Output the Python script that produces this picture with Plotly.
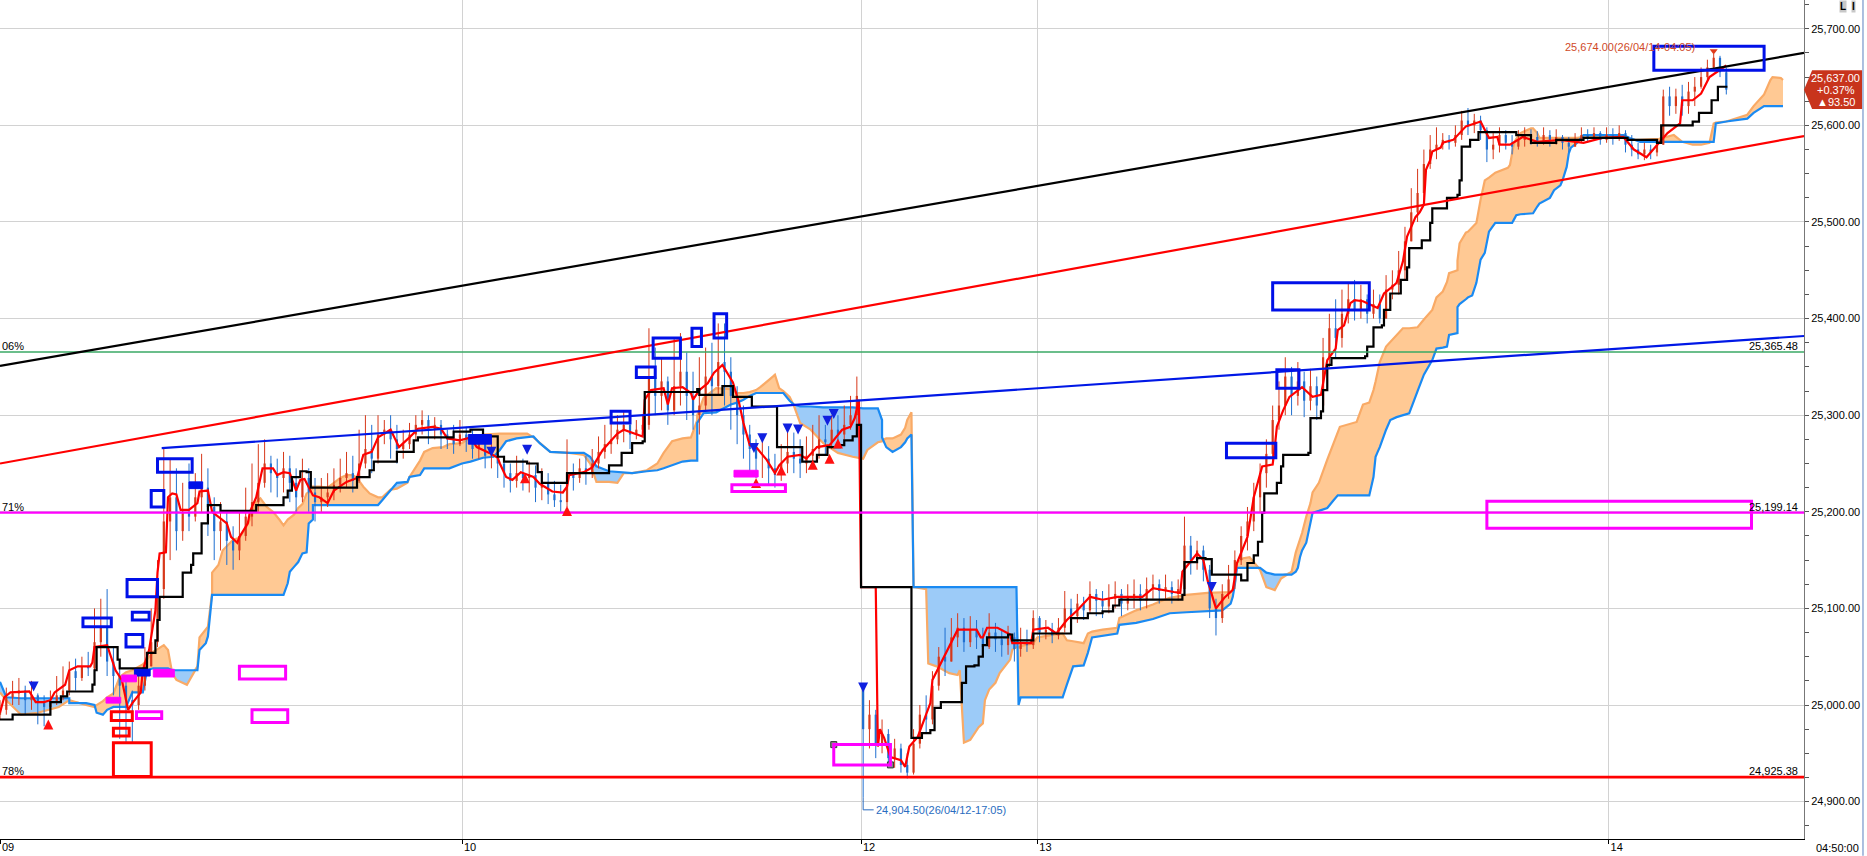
import numpy as np
import plotly.graph_objects as go

# 5 minute futures chart, 09 -> 14 Apr. One candle is kept for every 3 bars.
BAR_STEP = 3

# ---- session 1 (09-10), candles k = 0..136 ---------------------------
sess1_open = 24990
sess1_close = [
    24995, 25008, 25012, 25015, 25005, 25010, 25002, 24998, 25004, 25010, 25015,
    25035, 25028, 25040, 25038, 25065, 25080, 25045, 25030, 25020, 25005,
    25000, 25020, 25040, 25065, 25120, 25190, 25215, 25180, 25200, 25195,
    25215, 25225, 25205, 25180, 25190, 25170, 25160, 25175, 25195, 25210,
    25230, 25250, 25240, 25235, 25245, 25230, 25215, 25235, 25220, 25210,
    25215, 25220, 25228, 25235, 25240, 25232, 25250, 25265, 25255, 25280,
    25285, 25275, 25265, 25270, 25280, 25290, 25295, 25285, 25290, 25280,
    25275, 25270, 25280, 25275, 25265, 25270, 25258, 25260, 25250, 25240,
    25232, 25240, 25235, 25238, 25225, 25230, 25218, 25212, 25210, 25240,
    25235, 25245, 25240, 25250, 25262, 25270, 25275, 25285, 25290, 25280,
    25285, 25290, 25340, 25320, 25335, 25305, 25330, 25345, 25320, 25300,
    25310, 25340, 25330, 25355, 25345, 25320, 25300, 25280, 25265, 25255,
    25255, 25245, 25238, 25250, 25262, 25255, 25250, 25258, 25265, 25275,
    25272, 25285, 25280, 25290, 25300, 25320,
]
sess1_high = [
    25005, 25018, 25025, 25028, 25020, 25025, 25012, 25010, 25015, 25030, 25040,
    25045, 25048, 25050, 25055, 25100, 25110, 25120, 25060, 25040, 25025,
    25015, 25035, 25060, 25100, 25150, 25265, 25255, 25245, 25230, 25250,
    25240, 25260, 25245, 25215, 25210, 25200, 25185, 25200, 25225, 25250,
    25270, 25275, 25258, 25255, 25262, 25258, 25245, 25255, 25245, 25235,
    25235, 25240, 25245, 25255, 25262, 25258, 25285, 25300, 25290, 25300,
    25295, 25300, 25290, 25285, 25292, 25300, 25305, 25300, 25298, 25295,
    25285, 25290, 25295, 25288, 25285, 25280, 25275, 25272, 25265, 25258,
    25250, 25258, 25255, 25252, 25248, 25245, 25240, 25232, 25228, 25275,
    25250, 25255, 25258, 25265, 25278, 25290, 25295, 25300, 25305, 25300,
    25295, 25300, 25390, 25370, 25360, 25340, 25380, 25385, 25365, 25345,
    25360, 25370, 25375, 25395, 25395, 25360, 25330, 25310, 25290, 25275,
    25275, 25268, 25260, 25270, 25285, 25282, 25275, 25278, 25290, 25300,
    25290, 25300, 25300, 25310, 25320, 25340,
]
sess1_low = [
    24985, 24990, 25000, 25000, 24990, 24995, 24980, 24978, 24990, 25000, 25005,
    25010, 25015, 25025, 25030, 25035, 25050, 25030, 25010, 24965, 24960,
    24960, 24995, 25015, 25040, 25060, 25110, 25150, 25160, 25170, 25180,
    25190, 25200, 25175, 25150, 25160, 25145, 25140, 25150, 25170, 25185,
    25200, 25225, 25220, 25215, 25220, 25210, 25200, 25210, 25200, 25190,
    25200, 25205, 25212, 25220, 25225, 25220, 25230, 25245, 25240, 25250,
    25270, 25255, 25250, 25255, 25265, 25275, 25280, 25270, 25275, 25265,
    25265, 25260, 25268, 25262, 25255, 25255, 25245, 25245, 25235, 25225,
    25220, 25225, 25222, 25220, 25210, 25212, 25208, 25205, 25200, 25205,
    25222, 25230, 25228, 25235, 25245, 25255, 25260, 25270, 25272, 25265,
    25275, 25280, 25285, 25300, 25305, 25290, 25300, 25310, 25295, 25285,
    25280, 25305, 25300, 25320, 25310, 25285, 25270, 25255, 25240, 25235,
    25235, 25228, 25225, 25232, 25240, 25240, 25235, 25240, 25248, 25255,
    25258, 25265, 25268, 25275, 25285, 25290,
]

# ---- session 2 (12-14), candles k = 137..274 --------------------------
sess2_open = 25018
sess2_close = [
    24975, 24990, 24960, 24970, 24945, 24955, 24938, 24930, 24960, 24990, 24985, 25020, 25050, 25045,
    25070, 25080, 25065, 25078, 25070, 25060, 25075, 25068, 25062, 25070,
    25058, 25065, 25062, 25090, 25075, 25078, 25072, 25080, 25100, 25092,
    25105, 25098, 25115, 25108, 25102, 25110, 25115, 25105, 25112,
    25115, 25108, 25120, 25125, 25118, 25122, 25115, 25120, 25165, 25150, 25160,
    25140, 25100, 25090, 25115, 25130, 25150, 25175, 25190, 25215, 25240,
    25260, 25295, 25310, 25340, 25320, 25335, 25315, 25330, 25310, 25360,
    25390, 25380, 25405, 25420, 25410, 25420, 25405, 25415, 25400, 25430,
    25435, 25450, 25480, 25510, 25530, 25560, 25575, 25580, 25585, 25582,
    25590, 25605, 25600, 25605, 25595, 25575, 25580, 25590, 25582, 25578,
    25585, 25590, 25588, 25582, 25590, 25585, 25588, 25582, 25578, 25585,
    25590, 25588, 25592, 25585, 25590, 25588, 25592, 25580, 25575, 25570,
    25575, 25572, 25580, 25630, 25620, 25630, 25620, 25635, 25640, 25650,
    25660, 25670, 25655, 25637,
]
sess2_high = [
    25022, 25005, 24995, 24985, 24975, 24965, 24960, 24950, 24975, 25000, 25010, 25035, 25060, 25080,
    25090, 25095, 25090, 25092, 25088, 25080, 25095, 25085, 25078, 25082,
    25075, 25080, 25078, 25098, 25092, 25088, 25085, 25090, 25118, 25110,
    25115, 25112, 25128, 25120, 25118, 25125, 25128, 25120, 25125,
    25130, 25125, 25132, 25135, 25130, 25135, 25128, 25130, 25195, 25175, 25170,
    25165, 25145, 25110, 25125, 25145, 25160, 25185, 25205, 25230, 25250,
    25275, 25310, 25335, 25360, 25350, 25355, 25345, 25348, 25340, 25380,
    25405, 25420, 25430, 25437, 25440, 25435, 25425, 25430, 25425, 25445,
    25450, 25470, 25495, 25535, 25555, 25575, 25590, 25598, 25592, 25590,
    25600, 25615, 25618, 25612, 25610, 25598, 25592, 25598, 25595, 25590,
    25595, 25598, 25596, 25594, 25598, 25595, 25596, 25590, 25588, 25592,
    25598, 25596, 25598, 25594, 25598, 25597, 25600, 25595, 25590, 25582,
    25582, 25580, 25585, 25637, 25640, 25638, 25642, 25645, 25650, 25660,
    25668, 25674, 25672, 25660,
]
sess2_low = [
    24904.5, 24955, 24945, 24950, 24935, 24935, 24930, 24924, 24928, 24955, 24970, 24980, 25015, 25030,
    25045, 25060, 25055, 25060, 25058, 25050, 25058, 25055, 25050, 25052,
    25045, 25050, 25055, 25058, 25065, 25068, 25064, 25068, 25075, 25080,
    25085, 25088, 25095, 25092, 25090, 25095, 25100, 25092, 25098,
    25100, 25098, 25100, 25110, 25105, 25110, 25105, 25108, 25115, 25135, 25140,
    25128, 25090, 25072, 25085, 25110, 25120, 25145, 25160, 25180, 25200,
    25225, 25250, 25285, 25300, 25300, 25310, 25298, 25305, 25295, 25315,
    25350, 25360, 25370, 25395, 25398, 25400, 25395, 25400, 25395, 25400,
    25420, 25425, 25440, 25480, 25500, 25520, 25555, 25565, 25575, 25575,
    25578, 25585, 25590, 25592, 25585, 25562, 25565, 25572, 25575, 25570,
    25575, 25578, 25580, 25578, 25580, 25578, 25580, 25575, 25572, 25578,
    25582, 25582, 25584, 25580, 25582, 25580, 25584, 25572, 25568, 25565,
    25564, 25565, 25568, 25582, 25610, 25612, 25610, 25612, 25620, 25638,
    25645, 25658, 25650, 25632,
]

# ---- ichimoku lines, (bar, price) ------------------------------------
tenkan = [
    (0, 24992), (2, 25008), (5, 25013), (14, 25014), (17, 25003), (21, 25003), (24, 25005),
    (26, 25013), (31, 25021), (33, 25036), (37, 25040), (43, 25040), (44, 25044), (45, 25060),
    (51, 25062), (55, 25036), (58, 25026), (61, 24995), (63, 25002), (67, 25013), (68, 25036),
    (71, 25057), (74, 25098), (75, 25137), (76, 25157), (79, 25158), (80, 25215), (82, 25219),
    (84, 25218), (86, 25202), (90, 25202), (94, 25209), (95, 25221), (99, 25222), (101, 25200),
    (104, 25195), (108, 25188), (110, 25174), (113, 25168), (114, 25174), (118, 25188),
    (119, 25200), (122, 25215), (125, 25245), (130, 25245), (132, 25238), (135, 25241),
    (138, 25240), (141, 25222), (143, 25233), (145, 25234), (149, 25217), (152, 25215),
    (156, 25209), (159, 25222), (165, 25231), (170, 25235), (173, 25259), (177, 25262),
    (180, 25277), (186, 25285), (188, 25276), (190, 25267), (195, 25277), (199, 25286),
    (206, 25288), (210, 25286), (213, 25276), (219, 25274), (224, 25277), (227, 25267),
    (233, 25261), (237, 25256), (238, 25250), (241, 25236), (244, 25233), (248, 25241),
    (254, 25236), (257, 25229), (263, 25221), (268, 25220), (270, 25226), (271, 25238),
    (278, 25241), (282, 25246), (287, 25264), (294, 25281), (297, 25285), (306, 25278),
    (307, 25316), (310, 25326), (316, 25328), (318, 25311), (320, 25328), (325, 25329),
    (329, 25323), (330, 25316), (333, 25326), (337, 25333), (340, 25344), (344, 25352),
    (349, 25334), (352, 25312), (354, 25292), (357, 25269), (360, 25267), (365, 25254),
    (369, 25240), (371, 25248), (375, 25257), (381, 25259), (384, 25255), (389, 25267),
    (395, 25269), (401, 25285), (405, 25288), (407, 25297), (409, 25316), (410, 25122),
    (417, 25122), (418, 24957), (419, 24975), (421, 24966), (424, 24946), (429, 24943),
    (431, 24936), (433, 24957), (437, 24967), (440, 24984), (443, 25002), (444, 25026),
    (448, 25043), (452, 25060), (456, 25078), (465, 25078), (467, 25070), (468, 25070),
    (470, 25080), (475, 25080), (481, 25073), (482, 25064), (491, 25064), (492, 25078),
    (499, 25080), (503, 25074), (508, 25088), (513, 25098), (519, 25112), (525, 25109),
    (532, 25112), (544, 25112), (549, 25121), (559, 25117), (562, 25116), (563, 25138),
    (570, 25157), (573, 25150), (575, 25129), (579, 25100), (583, 25111), (587, 25119),
    (589, 25147), (594, 25174), (597, 25215), (601, 25247), (606, 25249), (607, 25267),
    (608, 25288), (611, 25305), (614, 25319), (620, 25329), (625, 25319), (629, 25321),
    (632, 25357), (636, 25369), (637, 25388), (640, 25393), (643, 25416), (645, 25419),
    (649, 25418), (656, 25411), (659, 25426), (663, 25433), (665, 25437), (668, 25459),
    (670, 25485), (674, 25505), (676, 25510), (678, 25518), (679, 25554), (681, 25564),
    (682, 25573), (686, 25577), (687, 25582), (692, 25585), (695, 25592), (698, 25599),
    (705, 25604), (707, 25595), (709, 25587), (713, 25588), (714, 25580), (719, 25580),
    (725, 25588), (732, 25583), (743, 25585), (754, 25582), (763, 25587), (773, 25588),
    (778, 25575), (784, 25567), (790, 25582), (794, 25592), (800, 25602), (801, 25626),
    (806, 25626), (810, 25633), (814, 25650), (819, 25657), (822, 25662),
]
kijun = [
    (0, 24985), (6, 24990), (24, 25003), (29, 25009), (32, 25014), (44, 25021), (45, 25036),
    (46, 25060), (56, 25047), (57, 25038), (70, 25054), (74, 25067), (75, 25088), (76, 25112),
    (87, 25137), (91, 25145), (92, 25157), (96, 25188), (99, 25207), (105, 25201), (122, 25207),
    (135, 25215), (137, 25222), (139, 25236), (143, 25242), (146, 25241), (148, 25225),
    (170, 25236), (176, 25243), (178, 25252), (189, 25262), (197, 25274), (199, 25277),
    (216, 25283), (224, 25285), (230, 25278), (237, 25257), (240, 25252), (251, 25250),
    (256, 25241), (258, 25230), (270, 25240), (290, 25248), (296, 25261), (301, 25271),
    (306, 25273), (307, 25324), (332, 25327), (333, 25321), (344, 25330), (349, 25319),
    (358, 25309), (370, 25267), (382, 25252), (389, 25259), (394, 25267), (400, 25269),
    (402, 25274), (406, 25278), (408, 25290), (410, 25122), (434, 24966), (439, 24971),
    (443, 24974), (445, 24997), (448, 25003), (458, 25023), (460, 25040), (464, 25041),
    (466, 25050), (468, 25062), (470, 25070), (480, 25073), (482, 25067), (492, 25074),
    (510, 25090), (518, 25095), (525, 25097), (530, 25103), (533, 25109), (563, 25114),
    (564, 25148), (570, 25152), (574, 25151), (577, 25135), (591, 25129), (594, 25147),
    (597, 25155), (599, 25169), (601, 25199), (602, 25219), (608, 25230), (610, 25247),
    (611, 25259), (623, 25261), (624, 25297), (629, 25304), (630, 25326), (632, 25352),
    (634, 25359), (650, 25361), (651, 25371), (654, 25391), (658, 25393), (659, 25409),
    (662, 25426), (667, 25440), (670, 25453), (671, 25473), (677, 25481), (681, 25499),
    (682, 25514), (689, 25525), (694, 25528), (695, 25543), (696, 25578), (700, 25585),
    (704, 25593), (722, 25590), (729, 25582), (741, 25585), (754, 25587), (775, 25585),
    (789, 25582), (791, 25600), (806, 25604), (809, 25613), (815, 25626), (818, 25640),
    (822, 25641),
]
# leading spans on a shared bar grid: (bar, span A, span B)
cloud = [
    (0, 25013, 25024), (3, 25005, 25008), (10, 24990, 25007), (18, 24992, 25007),
    (28, 24998, 25007), (33, 25005, 25007), (33, 25005, 25002), (41, 25000, 25002),
    (45, 24998, 25000), (46, 25000, 24992), (49, 25004, 24990), (51, 25008, 24995),
    (54, 25012, 24998), (57, 25029, 24998), (60, 25034, 24998), (63, 25036, 25013),
    (68, 25042, 25013), (70, 25047, 25036), (73, 25055, 25038), (78, 25062, 25038),
    (80, 25057, 25038), (82, 25033, 25036), (84, 25026, 25036), (89, 25021, 25036),
    (92, 25033, 25036), (94, 25040, 25036), (95, 25070, 25057), (98, 25078, 25064),
    (99, 25081, 25071), (101, 25116, 25114), (101, 25137, 25114), (104, 25145, 25114),
    (106, 25160, 25114), (111, 25171, 25114), (114, 25173, 25114), (117, 25183, 25114),
    (119, 25192, 25114), (122, 25210, 25114), (124, 25214, 25114), (127, 25205, 25114),
    (130, 25200, 25114), (133, 25192, 25114), (135, 25186, 25114), (137, 25192, 25126),
    (138, 25194, 25138), (140, 25197, 25143), (142, 25204, 25148), (144, 25208, 25157),
    (146, 25219, 25158), (147, 25220, 25188), (149, 25225, 25192), (149, 25226, 25207),
    (152, 25226, 25207), (156, 25225, 25207), (159, 25230, 25207), (162, 25235, 25207),
    (165, 25238, 25207), (168, 25238, 25207), (170, 25235, 25207), (173, 25226, 25207),
    (176, 25219, 25207), (180, 25215, 25207), (182, 25215, 25212), (186, 25223, 25223),
    (189, 25224, 25230), (194, 25230, 25231), (195, 25236, 25236), (197, 25243, 25237),
    (200, 25253, 25238), (202, 25262, 25245), (206, 25266, 25245), (211, 25267, 25245),
    (214, 25270, 25245), (220, 25271, 25250), (224, 25277, 25252), (230, 25280, 25256),
    (235, 25281, 25257), (238, 25281, 25264), (241, 25281, 25273), (246, 25281, 25276),
    (251, 25281, 25277), (254, 25277, 25278), (257, 25271, 25271), (262, 25262, 25262),
    (271, 25261, 25261), (278, 25259, 25261), (281, 25250, 25257), (284, 25231, 25247),
    (290, 25231, 25242), (294, 25230, 25241), (297, 25240, 25241), (301, 25240, 25240),
    (308, 25243, 25242), (313, 25250, 25243), (316, 25261, 25245), (320, 25273, 25248),
    (325, 25276, 25252), (329, 25277, 25253), (332, 25295, 25253), (332, 25300, 25292),
    (335, 25318, 25302), (341, 25328, 25303), (348, 25327, 25311), (351, 25323, 25313),
    (354, 25323, 25316), (357, 25324, 25320), (360, 25326, 25323), (362, 25329, 25323),
    (368, 25340, 25323), (369, 25342, 25323), (371, 25328, 25323), (373, 25325, 25323),
    (376, 25319, 25315), (378, 25310, 25311), (381, 25292, 25309), (386, 25285, 25309),
    (392, 25271, 25308), (399, 25261, 25308), (406, 25257, 25308), (411, 25255, 25307),
    (413, 25264, 25307), (418, 25272, 25307), (420, 25273, 25295), (420, 25274, 25277),
    (422, 25276, 25267), (425, 25276, 25262), (429, 25280, 25267), (431, 25287, 25272),
    (432, 25295, 25276), (434, 25303, 25280), (435, 25122, 25122), (441, 25120, 25122),
    (442, 25043, 25122), (446, 25040, 25122), (452, 25033, 25122), (456, 25031, 25122),
    (457, 25036, 25122), (459, 24961, 25122), (462, 24964, 25122), (466, 24977, 25122),
    (468, 24981, 25122), (469, 25005, 25122), (471, 25016, 25122), (474, 25023, 25122),
    (476, 25033, 25122), (481, 25047, 25122), (482, 25057, 25122), (484, 25060, 25122),
    (485, 25060, 25000), (486, 25061, 25008), (492, 25064, 25008), (494, 25070, 25008),
    (506, 25074, 25008), (508, 25067, 25021), (511, 25066, 25040), (516, 25064, 25041),
    (518, 25074, 25054), (520, 25076, 25070), (525, 25078, 25072), (532, 25080, 25074),
    (533, 25090, 25083), (541, 25098, 25085), (549, 25104, 25089), (552, 25107, 25091),
    (557, 25111, 25095), (565, 25114, 25096), (575, 25116, 25097), (582, 25117, 25098),
    (586, 25117, 25105), (587, 25120, 25112), (588, 25126, 25125), (589, 25147, 25142),
    (592, 25152, 25142), (595, 25153, 25142), (600, 25140, 25142), (603, 25122, 25137),
    (607, 25119, 25135), (610, 25131, 25135), (615, 25138, 25135), (617, 25158, 25138),
    (618, 25165, 25142), (619, 25172, 25153), (620, 25178, 25160), (622, 25195, 25168),
    (624, 25209, 25188), (625, 25220, 25199), (628, 25230, 25201), (632, 25254, 25204),
    (635, 25271, 25212), (637, 25282, 25217), (638, 25288, 25217), (646, 25293, 25217),
    (649, 25311, 25217), (652, 25313, 25217), (654, 25326, 25236), (655, 25335, 25257),
    (656, 25345, 25262), (657, 25355, 25267), (660, 25371, 25285), (662, 25376, 25295),
    (665, 25383, 25298), (668, 25390, 25300), (671, 25390, 25302), (675, 25391, 25325),
    (678, 25399, 25342), (682, 25409, 25357), (684, 25422, 25369), (687, 25428, 25370),
    (689, 25438, 25371), (690, 25447, 25383), (694, 25450, 25385), (694, 25460, 25412),
    (695, 25478, 25415), (698, 25489, 25420), (699, 25490, 25422), (701, 25494, 25424),
    (703, 25499, 25437), (705, 25523, 25461), (707, 25543, 25468), (709, 25546, 25490),
    (712, 25551, 25499), (718, 25556, 25499), (719, 25559, 25499), (720, 25571, 25499),
    (721, 25582, 25503), (722, 25586, 25507), (724, 25592, 25508), (729, 25597, 25509),
    (730, 25597, 25509), (732, 25592, 25516), (733, 25587, 25519), (738, 25587, 25525),
    (740, 25587, 25533), (743, 25587, 25538), (744, 25587, 25543), (746, 25587, 25557),
    (747, 25587, 25571), (748, 25587, 25577), (751, 25587, 25582), (754, 25588, 25590),
    (767, 25589, 25590), (773, 25587, 25590), (776, 25585, 25587), (781, 25585, 25583),
    (790, 25586, 25583), (797, 25590, 25583), (801, 25583, 25583), (806, 25580, 25583),
    (810, 25580, 25583), (814, 25582, 25583), (816, 25602, 25583), (817, 25603, 25602),
    (822, 25604, 25604), (832, 25611, 25607), (835, 25620, 25613), (840, 25632, 25620),
    (843, 25647, 25620), (844, 25650, 25620), (848, 25649, 25620), (849, 25647, 25620),
]

# ---- drawn trend lines and levels --------------------------------------
trend_black = [(0, 25351), (859, 25675)]
trend_red = [(0, 25250), (859, 25589)]
trend_blue = [(77, 25266), (859, 25382)]
level_green = 25365.48
level_magenta = 25199.14
level_red = 24925.38
level_tags = ['06%', '71%', '78%']

# signal arrows (bar, price)
sell_arrows = [(16, 25014), (234, 25257), (251, 25259), (359, 25261), (363, 25271),
               (375, 25281), (380, 25280), (394, 25289), (397, 25296), (411, 25013), (577, 25117)]
buy_arrows = [(23, 24985), (250, 25240), (270, 25206), (360, 25235), (372, 25248),
              (387, 25254), (395, 25260), (399, 25276)]

# pattern boxes: (bar from, bar to, low, high)
blue_boxes = [(39.5, 53, 25081, 25090), (60.5, 75, 25112, 25130), (63, 71, 25088, 25096),
              (60, 68, 25060, 25073), (75, 91.5, 25241, 25255), (72, 78, 25205, 25222),
              (291, 300, 25292, 25304), (303, 312, 25339, 25350), (311, 324, 25359, 25380),
              (329.5, 334, 25371, 25390), (340, 346, 25380, 25405), (584, 607.5, 25256, 25271),
              (608, 618.5, 25328, 25347), (606, 652, 25409, 25437), (787.5, 840, 25657, 25682)]
blue_blocks = [(64, 71.5, 25030, 25037), (90, 96.5, 25224, 25231), (223, 234, 25270, 25280)]
magenta_boxes = [(114, 136, 25027, 25040), (120, 137, 24982, 24995), (65, 77, 24986, 24993),
                 (348.5, 374, 25221, 25228), (397, 424, 24938, 24959), (708, 834, 25183, 25211)]
magenta_blocks = [(58, 65, 25024, 25031), (50.5, 57.5, 25002, 25008), (73, 83, 25029, 25037),
                  (349.5, 361, 25236, 25243)]
red_boxes = [(53, 63, 24984, 24993), (54, 61.5, 24968, 24976), (54, 72, 24926, 24961)]

day_ticks = [0, 220, 410, 494, 766]
day_labels = ['09', '10', '12', '13', '14']
last_time = '04:50:00'

last_price = 25637.00
change_pct = 0.37
change_abs = 93.50
high_mark = (816, 25674.00, '26/04/14-04:05')
low_mark = (411, 24904.50, '26/04/12-17:05')

# ------------------------------------------------------------------------
FONT = 'Liberation Sans, Arial, sans-serif'
UP, DOWN = '#d7381a', '#1f6fd0'


def session(first_open, close, high, low, first_index):
	assert len(close) == len(high) == len(low)
	close = np.asarray(close, float)
	open_ = np.concatenate([[first_open], close[:-1]])
	high = np.maximum(np.asarray(high, float), np.maximum(open_, close))
	low = np.minimum(np.asarray(low, float), np.minimum(open_, close))
	x = (first_index + np.arange(len(close))) * BAR_STEP
	return x, open_, high, low, close


def segments(x, y0, y1):
	gap = np.full(len(x), np.nan)
	return np.column_stack([x, x, gap]).ravel(), np.column_stack([y0, y1, gap]).ravel()


s1 = session(sess1_open, sess1_close, sess1_high, sess1_low, 0)
s2 = session(sess2_open, sess2_close, sess2_high, sess2_low, len(sess1_close))
cx, co, ch, cl, cc = [np.concatenate([a, b]) for a, b in zip(s1, s2)]

fig = go.Figure()

# cloud fill: orange where span A is on top, light blue where span B is on top
cb = np.array([c[0] for c in cloud], float)
ca = np.array([c[1] for c in cloud], float)
cs = np.array([c[2] for c in cloud], float)
top = np.maximum(ca, cs)
nl = dict(width=0)
fig.add_trace(go.Scatter(x=cb, y=cs, mode='lines', line=nl))
fig.add_trace(go.Scatter(x=cb, y=top, mode='lines', line=nl, fill='tonexty', fillcolor='#ffc994'))
fig.add_trace(go.Scatter(x=cb, y=ca, mode='lines', line=nl))
fig.add_trace(go.Scatter(x=cb, y=top, mode='lines', line=nl, fill='tonexty', fillcolor='#9ccbf8'))
fig.add_trace(go.Scatter(x=cb, y=ca, mode='lines', line=dict(color='#f9aa66', width=2.2)))
fig.add_trace(go.Scatter(x=cb, y=cs, mode='lines', line=dict(color='#1a8af2', width=2.2)))

# candles
for mask, col in ((cc >= co, UP), (cc < co, DOWN)):
	wx, wy = segments(cx[mask], cl[mask], ch[mask])
	fig.add_trace(go.Scatter(x=wx, y=wy, mode='lines', line=dict(color=col, width=1)))
	bx, by = segments(cx[mask], co[mask], cc[mask])
	fig.add_trace(go.Scatter(x=bx, y=by, mode='lines', line=dict(color=col, width=2.2)))

# conversion / base lines
fig.add_trace(go.Scatter(x=[p[0] for p in tenkan], y=[p[1] for p in tenkan], mode='lines',
                         line=dict(color='#ff0000', width=2.2)))
fig.add_trace(go.Scatter(x=[p[0] for p in kijun], y=[p[1] for p in kijun], mode='lines',
                         line=dict(color='#000000', width=2.2, shape='hv')))

# levels and trend lines
x_full = [0, 859]
for lvl, col, w in ((level_green, '#3aa864', 1.6), (level_magenta, '#ff00ff', 2.2), (level_red, '#ff0000', 2.6)):
	fig.add_trace(go.Scatter(x=x_full, y=[lvl, lvl], mode='lines', line=dict(color=col, width=w)))
for tl, col in ((trend_black, '#000000'), (trend_red, '#ff0000'), (trend_blue, '#0018e6')):
	fig.add_trace(go.Scatter(x=[p[0] for p in tl], y=[p[1] for p in tl], mode='lines',
	                         line=dict(color=col, width=2.2)))

# signal arrows
fig.add_trace(go.Scatter(x=[p[0] for p in sell_arrows], y=[p[1] for p in sell_arrows], mode='markers',
                         marker=dict(symbol='arrow-down', size=10, color='#1020e0')))
fig.add_trace(go.Scatter(x=[p[0] for p in buy_arrows], y=[p[1] for p in buy_arrows], mode='markers',
                         marker=dict(symbol='arrow-up', size=10, color='#ff1010')))
fig.add_trace(go.Scatter(x=[high_mark[0]], y=[high_mark[1] + 3], mode='markers',
                         marker=dict(symbol='triangle-down', size=7, color='#e03a1a')))

# low marker leader
lx, ly = low_mark[0], low_mark[1]
fig.add_trace(go.Scatter(x=[lx, lx, lx + 5], y=[ly, ly - 13, ly - 13], mode='lines',
                         line=dict(color='#2a6cc0', width=1)))

# handles on the day-12 box
fig.add_trace(go.Scatter(x=[397, 424], y=[24959, 24938], mode='markers',
                         marker=dict(symbol='square', size=6, color='#8a8a8a', line=dict(color='#333', width=1))))

fig.update_traces(showlegend=False, hoverinfo='skip')

# pattern boxes
for boxes, col, filled in ((blue_boxes, '#0010e8', False), (blue_blocks, '#0010e8', True),
                           (magenta_boxes, '#ff00ff', False), (magenta_blocks, '#ff00ff', True),
                           (red_boxes, '#ff0000', False)):
	for x0, x1, y0, y1 in boxes:
		fig.add_shape(type='rect', xref='x', yref='y', x0=x0, x1=x1, y0=y0, y1=y1,
		              line=dict(color=col, width=1 if filled else 3),
		              fillcolor=col if filled else 'rgba(0,0,0,0)')

# price tag on the axis
tag_h = 20
fig.add_shape(type='path', xref='paper', yref='y', fillcolor='#c8341c', line=dict(width=0),
              path=(f'M 1.0 {last_price} L 1.0045 {last_price + tag_h} L 1.0322 {last_price + tag_h} '
                    f'L 1.0322 {last_price - tag_h} L 1.0045 {last_price - tag_h} Z'))
for i, t in enumerate([f'{last_price:,.2f}', f'+{change_pct:.2f}%', f'▲{change_abs:.2f}']):
	fig.add_annotation(xref='paper', yref='y', x=1.0175, y=last_price + 12.5 - 12.5 * i, text=t,
	                   xanchor='center', showarrow=False, font=dict(color='white', size=11, family=FONT))

# right-end level labels
for lvl in (level_green, level_magenta, level_red):
	fig.add_annotation(x=857, y=lvl, text=f'{lvl:,.2f}', xanchor='right', yanchor='bottom',
	                   showarrow=False, font=dict(size=11, family=FONT, color='black'), yshift=-2)
for lvl, tag in zip((level_green, level_magenta, level_red), level_tags):
	fig.add_annotation(xref='paper', x=0, y=lvl, text=tag, xanchor='left', yanchor='bottom', xshift=0,
	                   showarrow=False, font=dict(size=11, family=FONT, color='black'), yshift=-2)

fig.add_annotation(x=808, y=high_mark[1] + 7, text=f'{high_mark[1]:,.2f}({high_mark[2]})', xanchor='right',
                   showarrow=False, font=dict(size=11, family=FONT, color='#d04a28'))
fig.add_annotation(x=lx + 5, y=ly - 13, text=f'{low_mark[1]:,.2f}({low_mark[2]})', xanchor='left',
                   showarrow=False, font=dict(size=11, family=FONT, color='#2a6cc0'))

fig.add_annotation(xref='paper', yref='paper', x=1.0185, y=0, yanchor='top', xanchor='center', yshift=-1,
                   text=last_time, showarrow=False, font=dict(size=11, family=FONT, color='black'))
for xp, t in ((1.0215, 'L'), (1.0275, 'I')):
	fig.add_annotation(xref='paper', yref='paper', x=xp, y=1, yanchor='top', xanchor='center',
	                   text=f'<b>{t}</b>', showarrow=False, bgcolor='#c8c8c8',
	                   font=dict(size=10, family=FONT, color='black'), borderpad=0)
fig.add_shape(type='line', xref='paper', yref='paper', x0=1.0327, x1=1.0327, y0=-0.02, y1=1,
              line=dict(color='#5a7fc0', width=1))

fig.update_layout(
	template='none',
	width=1867, height=856,
	margin=dict(l=0, r=63, t=0, b=17),
	paper_bgcolor='white', plot_bgcolor='white',
	font=dict(family=FONT, size=11, color='black'),
	hovermode=False, showlegend=False,
	xaxis=dict(range=[0, 859], tickvals=day_ticks, ticktext=day_labels, showgrid=True,
	           gridcolor='#d2d2d2', gridwidth=1, ticks='outside', ticklen=4, tickcolor='black',
	           showline=True, linecolor='black', linewidth=1, zeroline=False, automargin=False,
	           ticklabelshift=8, ticklabelstandoff=-6, tickfont=dict(size=11, family=FONT)),
	yaxis=dict(side='right', range=[24861.3, 25729.8], dtick=100, tick0=0, tickformat=',.2f',
	           showgrid=True, gridcolor='#d2d2d2', gridwidth=1, ticks='outside', ticklen=4,
	           tickcolor='#555', showline=True, linecolor='#777', linewidth=1, zeroline=False,
	           automargin=False, tickfont=dict(size=11, family=FONT),
	           minor=dict(dtick=25, ticks='outside', ticklen=4, tickcolor='#555', showgrid=False)),
)

fig.write_html('out.html', config={'displayModeBar': False},
               post_script="document.body.style.margin='0';document.body.style.overflow='hidden';")
